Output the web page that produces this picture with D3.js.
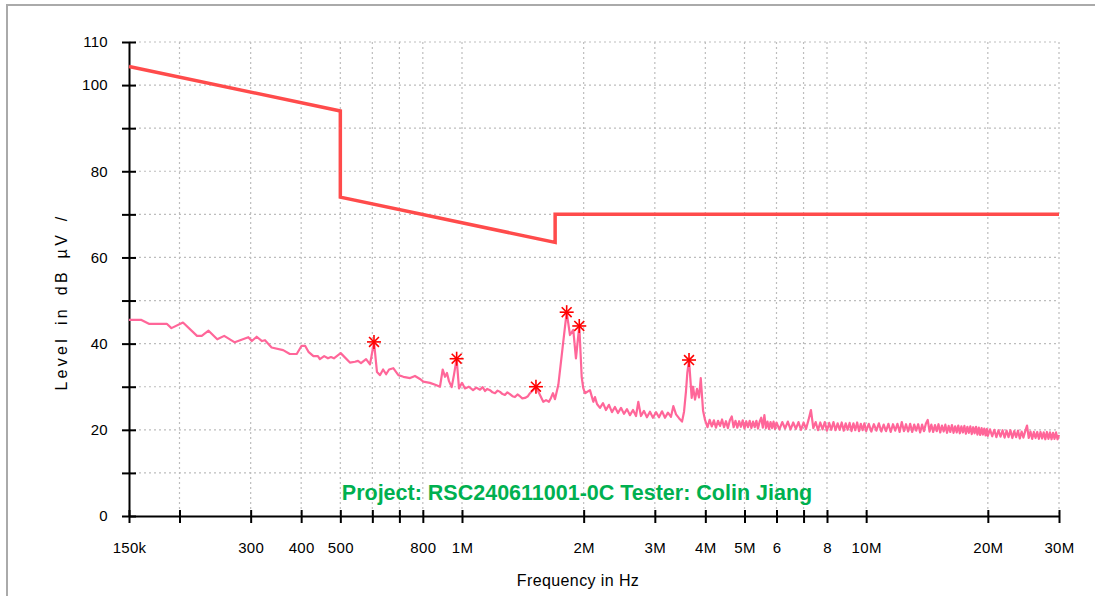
<!DOCTYPE html>
<html>
<head>
<meta charset="utf-8">
<script src="https://cdn.jsdelivr.net/npm/d3@7"></script>
<style>
  html, body { margin: 0; padding: 0; background: #fff; }
  svg { display: block; }
  text { font-family: "Liberation Sans", Arial, sans-serif; fill: #000; }
</style>
</head>
<body>
<svg id="chart" width="1095" height="596"></svg>
<script>
// Conducted emission scan, frequency in MHz, level in dBµV
// 150 kHz .. 2.2 MHz
const scanFreqLow = [
  0.150, 0.161, 0.168, 0.186, 0.191, 0.204, 0.221, 0.227, 0.236, 0.248,
  0.258, 0.274, 0.296, 0.302, 0.3105, 0.320, 0.3255, 0.338, 0.361, 0.375,
  0.390, 0.401, 0.409, 0.417, 0.429, 0.440, 0.445, 0.456, 0.466, 0.474,
  0.482, 0.501, 0.528, 0.5435, 0.553, 0.5625, 0.579, 0.592, 0.597, 0.6057,
  0.6161, 0.627, 0.638, 0.649, 0.660, 0.676, 0.696, 0.716, 0.744, 0.765,
  0.787, 0.802, 0.833, 0.862, 0.882, 0.896, 0.908, 0.918, 0.9285, 0.943,
  0.955, 0.970, 0.983, 1.000, 1.017, 1.040, 1.065, 1.085, 1.108, 1.125,
  1.140, 1.155, 1.173, 1.190, 1.207, 1.225, 1.242, 1.260, 1.277, 1.295,
  1.314, 1.333, 1.352, 1.372, 1.391, 1.410, 1.432, 1.456, 1.473, 1.4985,
  1.524, 1.542, 1.589, 1.614, 1.641, 1.660, 1.679, 1.698, 1.731, 1.775,
  1.8155, 1.850, 1.885, 1.914, 1.9506, 1.9775, 1.995, 2.015, 2.073, 2.113,
  2.133, 2.158
];
const scanLevelLow = [
  45.5, 45.5, 44.6, 44.6, 43.6, 44.9, 41.8, 41.8, 43.0, 41.0,
  41.8, 40.3, 41.5, 40.6, 41.6, 40.6, 40.8, 39.1, 38.5, 37.6,
  37.6, 39.5, 39.5, 38.1, 37.1, 37.1, 36.4, 37.1, 36.6, 36.9,
  36.6, 37.8, 35.6, 35.8, 36.0, 35.5, 36.4, 35.2, 37.0, 40.4,
  33.4, 32.7, 34.0, 32.9, 34.0, 34.3, 32.7, 32.3, 32.0, 32.5,
  31.8, 31.2, 30.9, 30.4, 30.0, 34.0, 32.3, 33.2, 31.3, 29.9,
  32.7, 36.5, 29.6, 30.9, 29.6, 30.0, 29.2, 29.8, 29.3, 29.9,
  29.0, 29.5, 29.2, 28.7, 28.5, 29.1, 28.8, 28.3, 28.1, 28.7,
  28.3, 27.8, 27.6, 28.2, 27.8, 27.3, 27.4, 27.8, 28.5, 29.2,
  30.0, 29.0, 26.5, 26.9, 26.5, 27.4, 28.5, 27.1, 30.4, 39.3,
  47.3, 42.0, 43.2, 36.6, 44.1, 32.3, 29.7, 28.5, 29.2, 26.5,
  27.6, 26.0
];
// 2.2 MHz .. 4 MHz
const scanFreqMid = [
  2.195, 2.233, 2.271, 2.310, 2.350, 2.390, 2.432, 2.474, 2.516, 2.560,
  2.604, 2.649, 2.695, 2.730, 2.772, 2.820, 2.868, 2.918, 2.968, 3.020,
  3.072, 3.125, 3.179, 3.233, 3.289, 3.333, 3.385, 3.443, 3.503, 3.543,
  3.583, 3.610, 3.645, 3.701, 3.729, 3.772, 3.815, 3.859, 3.897, 3.948,
  3.993
];
const scanLevelMid = [
  25.1, 26.2, 24.6, 25.8, 24.1, 25.3, 23.9, 25.1, 23.7, 24.8,
  23.4, 24.6, 23.2, 26.5, 23.2, 24.4, 22.9, 24.2, 22.8, 24.1,
  22.9, 24.3, 22.8, 24.0, 23.0, 25.5, 23.6, 22.7, 21.9, 24.2,
  29.0, 33.2, 36.2, 27.4, 30.0, 27.0, 29.5, 27.5, 32.0, 24.5,
  22.3
];
// 4 MHz .. 10 MHz
const scanFreqHigh = [
  4.05, 4.10, 4.15, 4.20, 4.25, 4.30, 4.35, 4.40, 4.45, 4.50,
  4.55, 4.60, 4.65, 4.70, 4.75, 4.80, 4.85, 4.90, 4.95, 5.00,
  5.05, 5.10, 5.15, 5.20, 5.25, 5.30, 5.35, 5.40, 5.45, 5.50,
  5.55, 5.60, 5.65, 5.70, 5.75, 5.80, 5.85, 5.90, 5.95, 6.00,
  6.1, 6.2, 6.3, 6.4, 6.5, 6.6, 6.7, 6.8, 6.9, 7.0,
  7.1, 7.2, 7.3, 7.4, 7.5, 7.6, 7.7, 7.8, 7.9, 8.0,
  8.1, 8.2, 8.3, 8.4, 8.5, 8.6, 8.7, 8.8, 8.9, 9.0,
  9.1, 9.2, 9.3, 9.4, 9.5, 9.6, 9.7, 9.8, 9.9, 10.0
];
const scanLevelHigh = [
  20.6, 22.3, 20.8, 22.2, 20.5, 22.1, 20.9, 22.4, 20.6, 22.0,
  20.4, 22.2, 23.1, 20.6, 22.1, 20.5, 22.0, 20.7, 22.2, 20.3,
  22.0, 20.6, 22.1, 20.4, 21.9, 20.6, 22.1, 20.3, 21.9, 22.8,
  20.5, 23.4, 20.4, 21.9, 20.2, 21.8, 20.4, 21.9, 20.2, 21.7,
  20.1, 21.8, 20.3, 21.9, 20.1, 21.7, 20.2, 21.8, 20.0, 21.7,
  20.2, 22.3, 24.6, 20.4, 21.8, 19.9, 21.7, 20.1, 21.8, 19.8,
  21.6, 20.0, 21.8, 19.9, 21.5, 20.0, 21.7, 19.8, 21.5, 20.0,
  21.6, 19.7, 21.5, 19.9, 21.7, 19.7, 21.4, 19.9, 21.5, 19.7
];
// 10 MHz .. 30 MHz
const scanFreqTop = [
  10.15, 10.3, 10.45, 10.6, 10.75, 10.9, 11.05, 11.2, 11.35, 11.5,
  11.65, 11.8, 11.95, 12.1, 12.25, 12.4, 12.55, 12.7, 12.85, 13.0,
  13.15, 13.3, 13.45, 13.6, 13.75, 13.9, 14.05, 14.2, 14.35, 14.5,
  14.65, 14.8, 14.95, 15.1, 15.25, 15.4, 15.55, 15.7, 15.85, 16.0,
  16.15, 16.3, 16.45, 16.6, 16.75, 16.9, 17.05, 17.2, 17.35, 17.5,
  17.65, 17.8, 17.95, 18.1, 18.25, 18.4, 18.55, 18.7, 18.85, 19.0,
  19.15, 19.3, 19.45, 19.6, 19.75, 19.9, 20.0,
  20.25, 20.5, 20.75, 21.0, 21.25, 21.5, 21.75, 22.0, 22.25, 22.5,
  22.75, 23.0, 23.25, 23.5, 23.75, 24.0, 24.25, 24.5, 24.75, 25.0,
  25.25, 25.5, 25.75, 26.0, 26.25, 26.5, 26.75, 27.0, 27.25, 27.5,
  27.75, 28.0, 28.25, 28.5, 28.75, 29.0, 29.25, 29.5, 29.75, 30.0
];
const scanLevelTop = [
  21.4, 19.6, 21.3, 19.8, 21.5, 19.6, 21.2, 19.7, 21.4, 19.5,
  21.3, 19.8, 21.4, 19.5, 21.8, 19.7, 21.3, 19.6, 21.4, 19.5,
  21.2, 19.8, 21.3, 19.4, 21.2, 19.7, 21.4, 22.3, 19.6, 21.2,
  19.5, 21.1, 19.7, 21.3, 19.4, 21.0, 19.6, 21.2, 19.3, 20.9,
  19.5, 21.1, 19.3, 20.8, 19.4, 21.0, 19.2, 20.8, 19.4, 20.9,
  19.1, 20.7, 19.3, 20.8, 19.0, 20.6, 19.2, 20.7, 18.9, 20.5,
  18.8, 20.4, 18.9, 20.3, 18.7, 20.2, 18.6,
  20.1, 18.5, 20.0, 18.3, 19.9, 18.4, 19.9, 18.2, 19.8, 18.3,
  19.9, 18.1, 19.7, 18.3, 19.8, 18.0, 19.6, 18.2, 19.7, 21.0,
  18.1, 19.6, 17.9, 19.5, 18.1, 19.5, 17.9, 19.5, 18.0, 19.4,
  17.8, 19.5, 17.9, 19.4, 17.8, 19.3, 17.9, 19.4, 17.8, 18.8
];

// Limit line vertices (MHz, dBµV)
const limitFreq  = [0.15, 0.5, 0.5, 1.7, 1.7, 30];
const limitLevel = [104.3, 94.0, 74.0, 63.5, 70.0, 70.0];

// Marked peaks (MHz, dBµV)
const peakFreq  = [0.6057, 0.970, 1.524, 1.8155, 1.9506, 3.645];
const peakLevel = [40.4, 36.5, 30.0, 47.3, 44.1, 36.2];

// Axis ticks and labels
const xTickFreq = [0.15, 0.2, 0.3, 0.4, 0.5, 0.6, 0.7, 0.8, 1, 2, 3, 4, 5, 6, 7, 8, 10, 20, 30];
const xTickText = ["150k", "", "300", "400", "500", "", "", "800", "1M", "2M", "3M", "4M", "5M", "6", "", "8", "10M", "20M", "30M"];
const yTickVals = [0, 10, 20, 30, 40, 50, 60, 70, 80, 90, 100, 110];
const yTickText = ["0", "", "20", "", "40", "", "60", "", "80", "", "100", "110"];

const svg = d3.select("#chart");

// outer frame (left and top edges)
svg.append("path")
  .attr("d", "M7,596 L7,5 L1095,5")
  .attr("fill", "none")
  .attr("stroke", "#aaaaaa")
  .attr("stroke-width", 2);

const x = d3.scaleLog().domain([0.15, 30]).range([129, 1059]);
const y = d3.scaleLinear().domain([0, 110]).range([516, 42]);

// grid
const grid = svg.append("g").attr("stroke", "#bdbdbd").attr("stroke-width", 1.2)
  .attr("stroke-dasharray", "2,3");
grid.selectAll("line.v").data(xTickFreq.slice(1)).enter().append("line")
  .attr("x1", d => x(d)).attr("x2", d => x(d)).attr("y1", y(110)).attr("y2", y(0));
grid.selectAll("line.h").data(yTickVals.slice(1)).enter().append("line")
  .attr("x1", x(0.15)).attr("x2", x(30)).attr("y1", d => y(d)).attr("y2", d => y(d));

// axes
const tickFont = "'Liberation Sans', Arial, sans-serif";
const xAxis = d3.axisBottom(x)
  .tickValues(xTickFreq)
  .tickFormat((d, i) => xTickText[i])
  .tickSizeInner(7).tickSizeOuter(0).tickPadding(19);
const gx = svg.append("g").attr("transform", `translate(0,${y(0)})`).call(xAxis);
gx.select(".domain").attr("stroke", "#000").attr("stroke-width", 2);
gx.selectAll(".tick line").attr("y1", -6).attr("y2", 7).attr("stroke", "#000").attr("stroke-width", 2);
gx.selectAll(".tick text").attr("font-size", 15).attr("letter-spacing", "0.3px")
  .attr("font-family", tickFont).attr("fill", "#000");

const yAxis = d3.axisLeft(y)
  .tickValues(yTickVals)
  .tickFormat((d, i) => yTickText[i])
  .tickSizeInner(7).tickSizeOuter(0).tickPadding(14);
const gy = svg.append("g").attr("transform", `translate(${x(0.15)},0)`).call(yAxis);
gy.select(".domain").attr("stroke", "#000").attr("stroke-width", 2);
gy.selectAll(".tick line").attr("x1", -7).attr("x2", 7).attr("stroke", "#000").attr("stroke-width", 2);
gy.selectAll(".tick text").attr("font-size", 15).attr("letter-spacing", "0.3px")
  .attr("font-family", tickFont).attr("fill", "#000");

// limit line
const limitPts = limitFreq.map((f, i) => [f, limitLevel[i]]);
svg.append("path")
  .datum(limitPts)
  .attr("fill", "none")
  .attr("stroke", "#ff4b4b")
  .attr("stroke-width", 3.5)
  .attr("stroke-linejoin", "miter")
  .attr("d", d3.line().x(d => x(d[0])).y(d => y(d[1])));

// scan trace
const scanFreq = scanFreqLow.concat(scanFreqMid, scanFreqHigh, scanFreqTop);
const scanLevel = scanLevelLow.concat(scanLevelMid, scanLevelHigh, scanLevelTop);
const scanPts = scanFreq.map((f, i) => [f, scanLevel[i]]);
svg.append("path")
  .datum(scanPts)
  .attr("fill", "none")
  .attr("stroke", "#ff6699")
  .attr("stroke-width", 2.2)
  .attr("stroke-linejoin", "round")
  .attr("d", d3.line().x(d => x(d[0])).y(d => y(d[1])));

// peak markers (asterisks)
const star = svg.append("g").attr("stroke", "#ff0000").attr("stroke-width", 1.6);
peakFreq.forEach((f, i) => {
  const cx = x(f), cy = y(peakLevel[i]);
  [0, 45, 90, 135].forEach(a => {
    const r = 7, t = a * Math.PI / 180;
    star.append("line")
      .attr("x1", cx - r * Math.cos(t)).attr("y1", cy - r * Math.sin(t))
      .attr("x2", cx + r * Math.cos(t)).attr("y2", cy + r * Math.sin(t));
  });
});

// annotation
svg.append("text")
  .attr("x", 577).attr("y", 500)
  .attr("text-anchor", "middle")
  .attr("font-size", 21.5).attr("font-weight", "bold")
  .style("fill", "#00b050")
  .text("Project: RSC240611001-0C Tester: Colin Jiang");

// axis titles
svg.append("text")
  .attr("transform", "translate(67,302) rotate(-90)")
  .attr("text-anchor", "middle")
  .attr("font-size", 16).attr("letter-spacing", "3.3px").attr("word-spacing", "3px")
  .text("Level in dB µV /");

svg.append("text")
  .attr("x", 578).attr("y", 586)
  .attr("text-anchor", "middle")
  .attr("font-size", 16).attr("letter-spacing", "0.4px")
  .text("Frequency in Hz");
</script>
</body>
</html>
